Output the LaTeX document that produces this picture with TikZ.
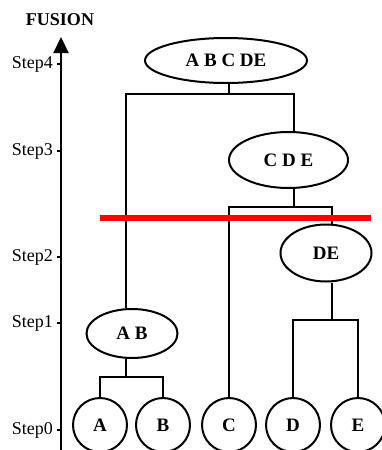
\documentclass[tikz,border=0pt]{standalone}
\usepackage{fontspec}
\setmainfont{Liberation Serif}
\usetikzlibrary{shapes.geometric,arrows.meta,calc}

\tikzset{
  lbl/.style={font=\fontsize{18}{20}\selectfont},
  grp/.style={draw, ellipse, line width=2pt, inner sep=0pt,
              font=\fontsize{19}{21}\selectfont\bfseries},
  leaf/.style={draw, circle, line width=2pt, inner sep=0pt,
               minimum size=54pt, font=\fontsize{19}{21}\selectfont\bfseries},
  link/.style={line width=2pt},
  cut/.style={red, line width=5.5pt},
  tick/.style={line width=1.3pt}
}

\begin{document}
\begin{tikzpicture}[x=1pt,y=-1pt]
  \useasboundingbox (0,0) rectangle (382,450);
  \clip (0,0) rectangle (382,450);

  % fusion axis with step ticks
  \coordinate (axbot) at (61,452);
  \coordinate (axtop) at (61,37);
  \draw[line width=2pt, -{Triangle[length=16pt,width=15pt]}] (axbot) -- (axtop);
  \node[lbl, font=\fontsize{18}{20}\selectfont\bfseries] (fusion) at (60,20) {FUSION};
  \foreach \k/\y in {4/64,3/151,2/257,1/323,0/430}{
    \coordinate (t\k) at (61,\y);
    \draw[tick] (t\k) -- ++(-4,0);
    \node[lbl, anchor=east, inner sep=0pt] (s\k) at (53,\y) {Step\k};
  }

  % clusters
  \node[grp, minimum width=162pt, minimum height=45pt] (abcde) at (226,60.5) {A B C DE};
  \node[grp, minimum width=119pt, minimum height=56pt] (cde) at (288.5,160) {C D E};
  \node[grp, minimum width=91pt, minimum height=57pt] (de) at (326,253) {DE};
  \node[grp, minimum width=91pt, minimum height=49pt] (ab) at (132,333.5) {A B};

  % leaves
  \node[leaf] (a) at (100,425) {A};
  \node[leaf] (b) at (163,425) {B};
  \node[leaf] (c) at (229,425) {C};
  \node[leaf] (d) at (293,425) {D};
  \node[leaf] (e) at (358,425) {E};

  % merge brackets
  \coordinate (j4) at (229,94);
  \coordinate (j4l) at (126,94);
  \coordinate (j4r) at (294,94);
  \draw[link] (abcde.south -| j4) -- (j4);
  \draw[link] (ab.north -| j4l) -- (j4l) -- (j4r) -- (cde.north -| j4r);

  \coordinate (j3) at (294,207);
  \coordinate (j3r) at (332,207);
  \draw[link] (cde.south -| j3) -- (j3);
  \draw[link] (c.north) -- (c.north |- j3) -- (j3r) -- (de.north -| j3r);

  \coordinate (j2) at (332,320);
  \draw[link] (de.south -| j2) -- (j2);
  \draw[link] (d.north) -- (d.north |- j2) -- (e.north |- j2) -- (e.north);

  \coordinate (j1) at (126,377);
  \draw[link] (ab.south -| j1) -- (j1);
  \draw[link] (a.north) -- (a.north |- j1) -- (b.north |- j1) -- (b.north);

  % cut level
  \coordinate (cutl) at (100,218);
  \coordinate (cutr) at (371,218);
  \draw[cut] (cutl) -- (cutr);
\end{tikzpicture}
\end{document}
